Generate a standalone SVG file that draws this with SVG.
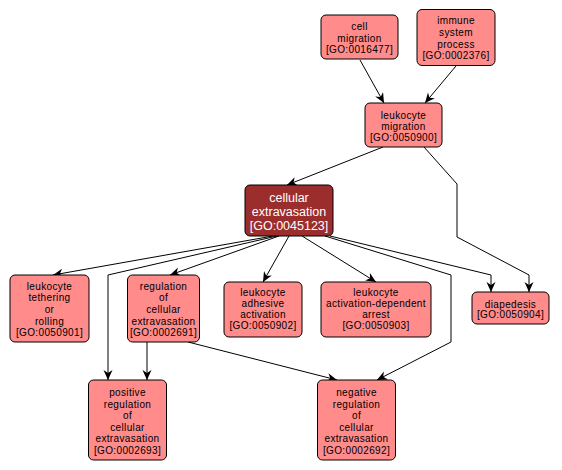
<svg xmlns="http://www.w3.org/2000/svg" width="562" height="470" viewBox="0 0 562 470">
<defs>
<style>
.n rect{fill:#ff8b8b;stroke:#000;stroke-width:1}
.n text{font-family:"Liberation Sans",Arial,sans-serif;font-size:10px;letter-spacing:0.35px;fill:#000;text-anchor:middle}
.d rect{fill:#9b2d2d;stroke:#000;stroke-width:1}
.d text{font-family:"Liberation Sans",Arial,sans-serif;font-size:12.5px;fill:#fff;text-anchor:middle}
.e path{fill:none;stroke:#000;stroke-width:1;marker-end:url(#ah)}
</style>
<marker id="ah" markerUnits="userSpaceOnUse" markerWidth="11" markerHeight="10" refX="10" refY="4.5" orient="auto">
<path d="M0,0 L10,4.5 L0,9 L3,4.5 z" fill="#000"/>
</marker>
</defs>
<rect width="562" height="470" fill="#fff"/>
<g id="edges" class="e">
<path d="M360,60 L384,103"/>
<path d="M456,66 L425,103"/>
<path d="M383,147 L287,185"/>
<path d="M424,147 L457,184 L457,237 L529,275 L529,292"/>
<path d="M273,236 L53,275"/>
<path d="M277,236 L108,275 L108,380"/>
<path d="M279,236 L170,275"/>
<path d="M289,236 L263,282"/>
<path d="M302,236 L376,282"/>
<path d="M325,236 L451,275 L451,342 L377,380"/>
<path d="M330,236 L491,275 L491,292"/>
<path d="M147,342 L147,380"/>
<path d="M188,342 L337,380"/>
</g>
<g id="GO0016477" class="n">
<rect x="321" y="15" width="77" height="44" rx="5"/>
<text x="359.5" y="29.5">cell</text>
<text x="359.5" y="41.5">migration</text>
<text x="359.5" y="53">[GO:0016477]</text>
</g>
<g id="GO0002376" class="n">
<rect x="417" y="9.5" width="78" height="56" rx="5"/>
<text x="456" y="24">immune</text>
<text x="456" y="35.5">system</text>
<text x="456" y="47.5">process</text>
<text x="456" y="59">[GO:0002376]</text>
</g>
<g id="GO0050900" class="n">
<rect x="365" y="103" width="77" height="44" rx="5"/>
<text x="403.5" y="118.5">leukocyte</text>
<text x="403.5" y="129.5">migration</text>
<text x="403.5" y="141">[GO:0050900]</text>
</g>
<g id="GO0045123" class="d">
<rect x="245" y="185" width="88" height="51" rx="5"/>
<text x="289" y="201.5">cellular</text>
<text x="289" y="216">extravasation</text>
<text x="289" y="229.5">[GO:0045123]</text>
</g>
<g id="GO0050901" class="n">
<rect x="10" y="275" width="79" height="67" rx="5"/>
<text x="49.5" y="289.5">leukocyte</text>
<text x="49.5" y="301">tethering</text>
<text x="49.5" y="313">or</text>
<text x="49.5" y="324.5">rolling</text>
<text x="49.5" y="335.5">[GO:0050901]</text>
</g>
<g id="GO0002691" class="n">
<rect x="127.5" y="275" width="72" height="67" rx="5"/>
<text x="163.5" y="289.5">regulation</text>
<text x="163.5" y="301">of</text>
<text x="163.5" y="313">cellular</text>
<text x="163.5" y="324.5">extravasation</text>
<text x="163.5" y="335.5">[GO:0002691]</text>
</g>
<g id="GO0050902" class="n">
<rect x="224" y="282" width="78" height="55" rx="5"/>
<text x="263" y="296">leukocyte</text>
<text x="263" y="307">adhesive</text>
<text x="263" y="318">activation</text>
<text x="263" y="329">[GO:0050902]</text>
</g>
<g id="GO0050903" class="n">
<rect x="321" y="282" width="110" height="55" rx="5"/>
<text x="376" y="296">leukocyte</text>
<text x="376" y="307">activation-dependent</text>
<text x="376" y="318">arrest</text>
<text x="376" y="329">[GO:0050903]</text>
</g>
<g id="GO0050904" class="n">
<rect x="472" y="292" width="77" height="32" rx="5"/>
<text x="510.5" y="307.5">diapedesis</text>
<text x="510.5" y="318">[GO:0050904]</text>
</g>
<g id="GO0002693" class="n">
<rect x="88.5" y="380" width="78" height="80" rx="5"/>
<text x="127.5" y="396">positive</text>
<text x="127.5" y="407.5">regulation</text>
<text x="127.5" y="419">of</text>
<text x="127.5" y="430.5">cellular</text>
<text x="127.5" y="442">extravasation</text>
<text x="127.5" y="453.5">[GO:0002693]</text>
</g>
<g id="GO0002692" class="n">
<rect x="317.5" y="380" width="78" height="80" rx="5"/>
<text x="356.5" y="396">negative</text>
<text x="356.5" y="407.5">regulation</text>
<text x="356.5" y="419">of</text>
<text x="356.5" y="430.5">cellular</text>
<text x="356.5" y="442">extravasation</text>
<text x="356.5" y="453.5">[GO:0002692]</text>
</g>
</svg>
